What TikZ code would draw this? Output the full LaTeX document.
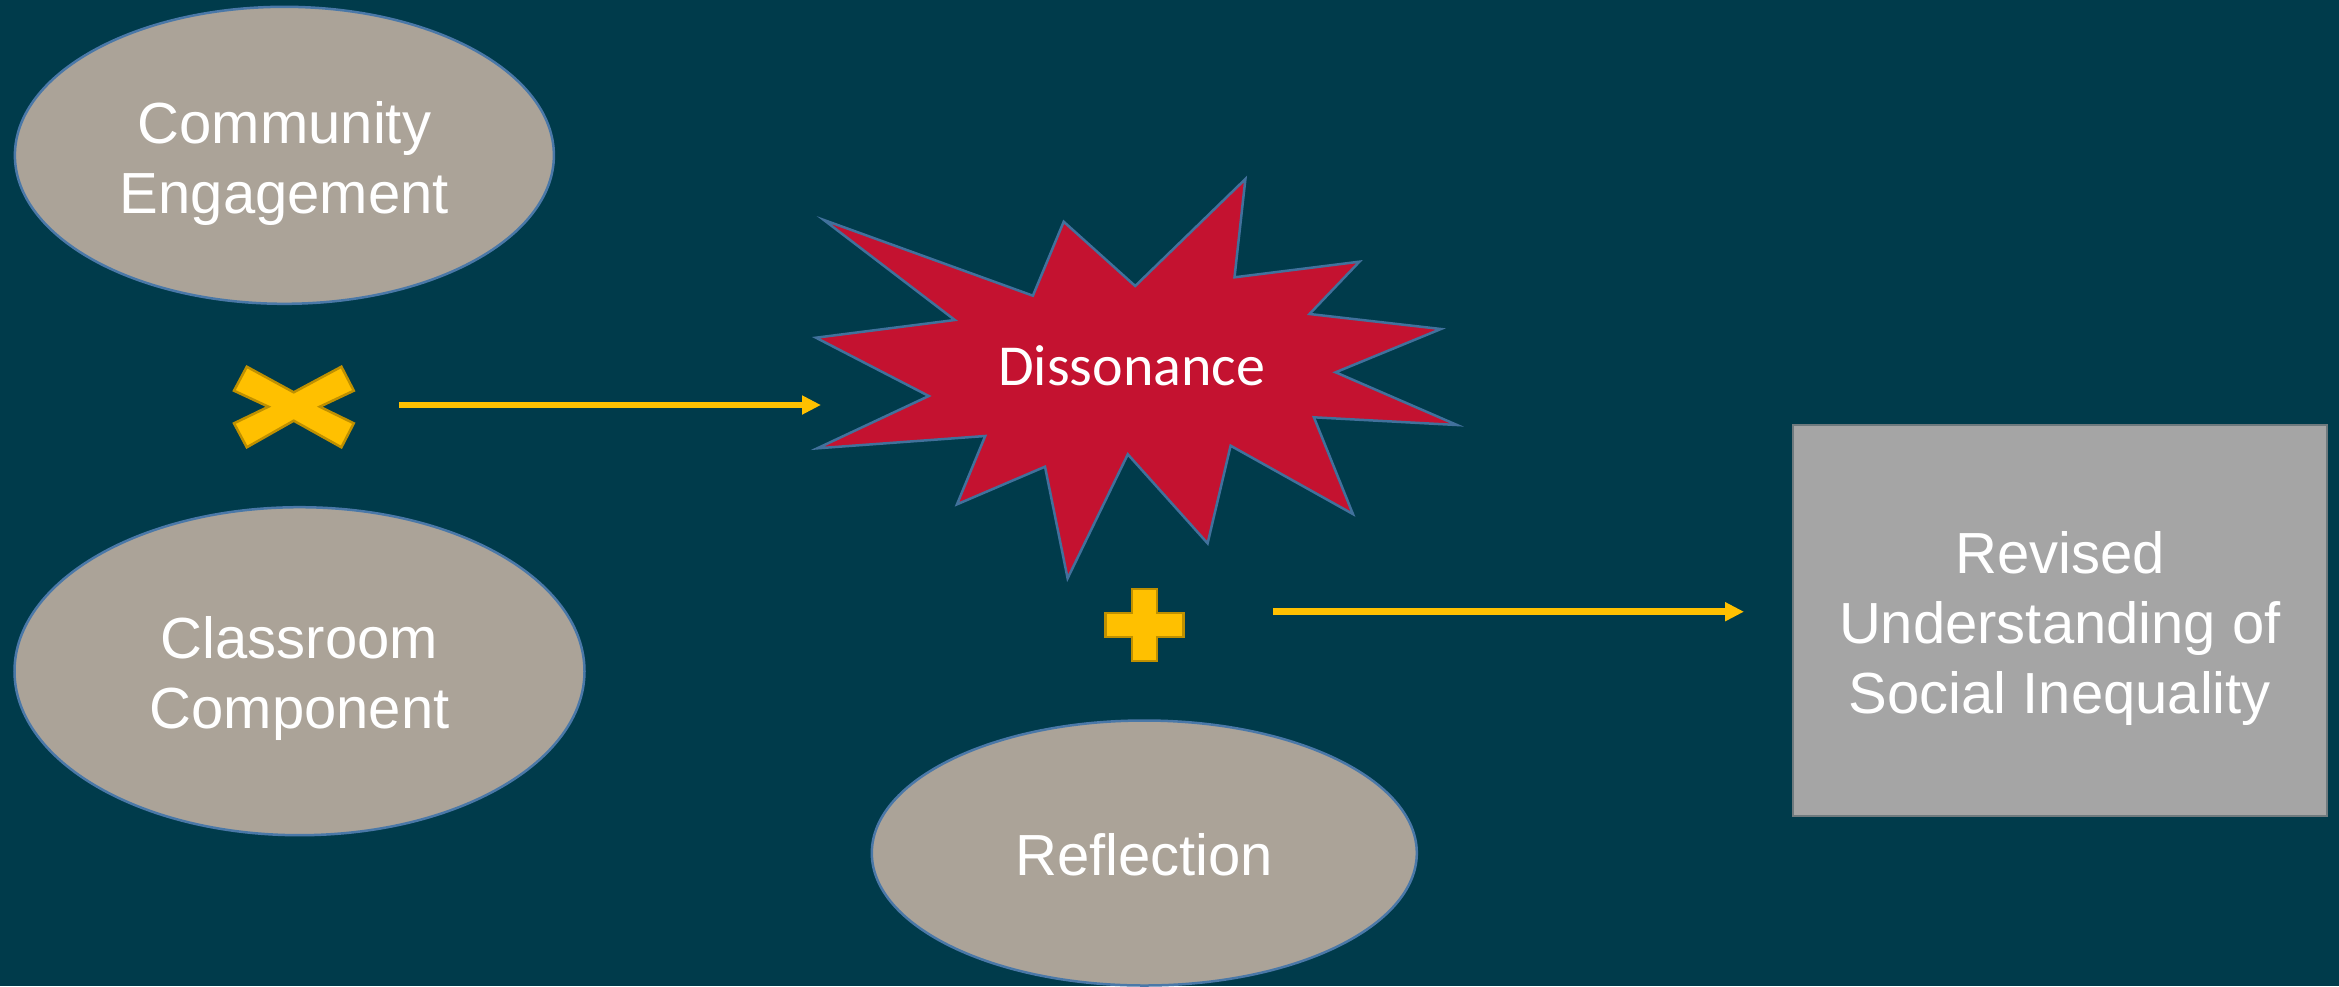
\documentclass[tikz,border=0pt]{standalone}
\usepackage{fontspec}
\setmainfont{Liberation Sans}
\newfontfamily\calibrifont{Carlito}
\usetikzlibrary{shapes.geometric,arrows.meta}
\definecolor{bg}{HTML}{003B4B}
\definecolor{ovalfill}{HTML}{ABA398}
\definecolor{ovalline}{HTML}{4A78A8}
\definecolor{starfill}{HTML}{C41230}
\definecolor{starline}{HTML}{41719C}
\definecolor{gold}{HTML}{FFC000}
\definecolor{golddark}{HTML}{BF9000}
\definecolor{boxfill}{HTML}{A5A5A5}
\definecolor{boxline}{HTML}{6F7A7E}
\tikzset{
  oval/.style={ellipse, fill=ovalfill, draw=ovalline, line width=2.5pt, inner sep=0pt,
    text=white, font=\fontsize{58}{70}\selectfont, align=center},
  resultbox/.style={rectangle, fill=boxfill, draw=boxline, line width=2.5pt, inner sep=0pt,
    text=white, font=\fontsize{58}{70}\selectfont, align=center},
  symbolshape/.style={fill=gold, draw=golddark, line width=2.5pt, line join=miter},
  flow/.style={draw=gold, line width=6.5pt, -{Triangle[length=19pt,width=18pt]}},
}
\begin{document}
\begin{tikzpicture}[x=1pt,y=-1pt]
\fill[bg] (0,0) rectangle (2339,986);
\useasboundingbox (0,0) rectangle (2339,986);

% ellipses
\node[oval, minimum width=539pt, minimum height=297pt, text height=116pt, text depth=0pt]
  (community) at (284.4,155.3) {Community\\Engagement};
\node[oval, minimum width=570pt, minimum height=328pt, text height=114.2pt, text depth=0pt]
  (classroom) at (299.5,671.2) {Classroom\\Component};
\node[oval, minimum width=545pt, minimum height=265pt, text height=44pt, text depth=0pt]
  (reflection) at (1144.3,853) {Reflection};

% result box
\node[resultbox, minimum width=534pt, minimum height=391pt, text height=185.6pt, text depth=0pt]
  (revised) at (2059.9,620.5) {Revised\\Understanding of\\Social Inequality};

% multiplication sign
\draw[symbolshape] (246.8,366.7) -- (293.7,392.3) -- (341.4,366.7) -- (353.8,390.7)
  -- (319.8,406.7) -- (353.8,423.3) -- (341.4,447.3) -- (293.7,420.7) -- (246.8,447.3)
  -- (234,423.3) -- (268.4,406.7) -- (234,390.7) -- cycle;
\coordinate (times) at (294,407);

% plus sign
\draw[symbolshape] (1132.2,589) -- (1156.8,589) -- (1156.8,613) -- (1183.6,613)
  -- (1183.6,637) -- (1156.8,637) -- (1156.8,661) -- (1132.2,661) -- (1132.2,637)
  -- (1105.4,637) -- (1105.4,613) -- (1132.2,613) -- cycle;
\coordinate (plus) at (1144.5,625);

% dissonance burst
\draw[fill=starfill, draw=starline, line width=2.5pt, line join=miter]
  (823.9,220) -- (1032.9,295.7) -- (1063.7,221.7) -- (1135.2,286) -- (1245.4,179)
  -- (1234.5,277.3) -- (1359.4,261.7) -- (1309.5,314) -- (1440.9,329) -- (1335.6,372.3)
  -- (1457,425) -- (1313.9,417.3) -- (1352.9,514) -- (1230.6,445.7) -- (1207.6,543.3)
  -- (1127.8,454.3) -- (1067.6,578.3) -- (1045,466.7) -- (957,504.3) -- (985.2,436)
  -- (817.3,448.3) -- (928.8,396) -- (816,337.7) -- (954.8,320) -- cycle;
\node[anchor=base, text=white, font=\calibrifont\fontsize{58}{70}\selectfont, inner sep=0pt]
  (dissonance) at (1131.7,385) {Dissonance};

% connectors
\coordinate (a1s) at (399,405);
\coordinate (a1e) at (821,405);
\coordinate (a2s) at (1273,611.7);
\coordinate (a2e) at (1744,611.7);
\draw[flow] (a1s) -- (a1e);
\draw[flow] (a2s) -- (a2e);
\end{tikzpicture}
\end{document}
